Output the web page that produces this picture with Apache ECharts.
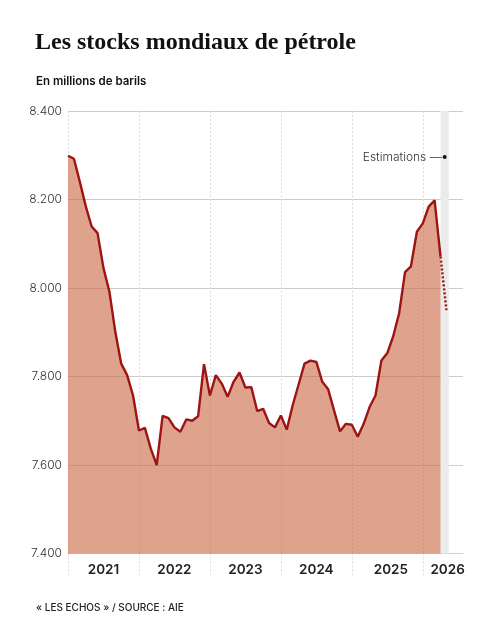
<!DOCTYPE html>
<html><head><meta charset="utf-8">
<script src="https://cdn.jsdelivr.net/npm/echarts@6/dist/echarts.min.js"></script>
<style>html,body{margin:0;padding:0;background:#fff}#c{width:494px;height:619px}</style>
</head><body><div id="c"></div>
<script>
// Monthly world oil stocks, millions of barrels (Jan 2021 - Apr 2026)
const years = ['2021','2022','2023','2024','2025','2026'];
const stocks2021 = [8299,8292,8240,8185,8139,8124,8045,7992,7901,7829,7803,7757];
const stocks2022 = [7678,7684,7637,7600,7711,7706,7685,7675,7703,7700,7710,7828];
const stocks2023 = [7757,7803,7784,7754,7788,7809,7775,7776,7722,7727,7695,7685];
const stocks2024 = [7712,7680,7735,7782,7829,7836,7833,7788,7771,7723,7676,7693];
const stocks2025 = [7691,7664,7693,7731,7757,7836,7853,7891,7943,8036,8049,8127];
const stocks2026 = [8146,8184,8198,8071];
const estimation = [8071,7950];           // Apr 2026 -> May 2026 (dotted)
const yTicks = [7400,7600,7800,8000,8200,8400];
const yearLabelPos = [6,18,30,42,54.6,64.2];
const estimationLabel = 'Estimations —';

const allStocks = [].concat(stocks2021,stocks2022,stocks2023,stocks2024,stocks2025,stocks2026);
const solidData = allStocks.map((v,i)=>[i,v]);
const estStart = allStocks.length - 1;
const estData = estimation.map((v,i)=>[estStart+i,v]);
const yearStarts = years.map((y,i)=>i*12);

const sans = 'Inter, "Noto Sans", "Liberation Sans", sans-serif';
const chart = echarts.init(document.getElementById('c'), null, {renderer:'canvas'});
chart.setOption({
  backgroundColor:'#fff',
  animation:false,
  title:[
    {text:'Les stocks mondiaux de pétrole', left:30, top:26,
     textStyle:{fontFamily:'"Liberation Serif", "DejaVu Serif", serif', fontWeight:'bold', fontSize:24, color:'#111'}},
    {text:'En millions de barils', left:31, top:71,
     textStyle:{fontFamily:sans, fontWeight:600, fontSize:11.5, color:'#111'}},
    {text:'« LES ECHOS » / SOURCE : AIE', left:31, top:598,
     textStyle:{fontFamily:sans, fontWeight:500, fontSize:10, color:'#222'}}
  ],
  grid:{left:68, right:31, top:111, bottom:65.5, containLabel:false},
  xAxis:{
    type:'value', min:0, max:66.8, interval:12,
    axisLine:{show:true, lineStyle:{color:'#cfcfcf', width:1}},
    axisTick:{show:true, customValues:yearStarts, length:22, inside:false,
      lineStyle:{color:'#dddddd', type:[2,2], width:1}},
    splitLine:{show:true, lineStyle:{color:'#dddddd', type:[2,2], width:1}},
    axisLabel:{customValues:yearLabelPos, margin:9,
      formatter:(v)=>years[yearLabelPos.indexOf(v)] || '',
      fontFamily:sans, fontSize:13.5, fontWeight:600, color:'#222'}
  },
  yAxis:{
    type:'value', min:yTicks[0], max:yTicks[yTicks.length-1], interval:200,
    axisLine:{show:false}, axisTick:{show:false},
    splitLine:{show:true, lineStyle:{color:'#cccccc', width:1}},
    axisLabel:{margin:6, fontFamily:sans, fontSize:12, fontWeight:300, color:'#333',
      formatter:(v)=>{const s=String(v); return s.slice(0,1)+'.'+s.slice(1);}}
  },
  series:[
    {type:'line', data:estData, symbol:'none', z:3,
     lineStyle:{color:'#9e1414', width:2.5, type:[2,2]},
     markArea:{silent:true, itemStyle:{color:'#ebebeb'},
       data:[[{xAxis:estStart}, {xAxis:estStart+1.4}]]},
     markPoint:{silent:true, symbol:'circle', symbolSize:4,
       itemStyle:{color:'#111'},
       data:[{coord:[estStart+0.7, 8296]}],
       label:{show:true, position:'left', distance:1, formatter:estimationLabel,
         fontFamily:sans, fontSize:12, fontWeight:300, color:'#333'}}
    },
    {type:'line', data:solidData, symbol:'none', z:4,
     lineStyle:{color:'#9e1414', width:2.4},
     areaStyle:{color:'rgb(202,100,63)', opacity:0.6, origin:'start'}}
  ]
});
</script></body></html>
